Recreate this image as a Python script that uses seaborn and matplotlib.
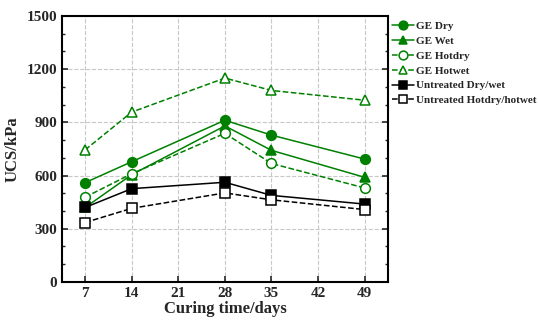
import numpy as np
import pandas as pd
import matplotlib
matplotlib.use('Agg')
import matplotlib.pyplot as plt
import seaborn as sns
from matplotlib.ticker import MultipleLocator

sns.set_style('white')
plt.rcParams['font.family'] = ['Liberation Serif', 'DejaVu Serif']
plt.rcParams['font.weight'] = 'bold'

days = [7, 14, 28, 35, 49]
ge_dry = [560, 678, 912, 828, 693]
ge_wet = [420, 605, 880, 742, 590]
ge_hotdry = [478, 610, 838, 668, 530]
ge_hotwet = [745, 958, 1150, 1080, 1025]
untreated_dw = [420, 526, 562, 488, 439]
untreated_hh = [335, 415, 502, 463, 408]

series = [
    ('GE Dry', ge_dry, 'green', '-', 'o', True),
    ('GE Wet', ge_wet, 'green', '-', '^', True),
    ('GE Hotdry', ge_hotdry, 'green', '--', 'o', False),
    ('GE Hotwet', ge_hotwet, 'green', '--', '^', False),
    ('Untreated Dry/wet', untreated_dw, 'black', '-', 's', True),
    ('Untreated Hotdry/hotwet', untreated_hh, 'black', '--', 's', False),
]

fig = plt.figure(figsize=(5.38, 3.27), dpi=100)
ax = fig.add_axes([0.115, 0.138, 0.606, 0.813])

for name, vals, col, ls, mk, filled in series:
    df = pd.DataFrame({'day': days, 'ucs': vals})
    sns.lineplot(data=df, x='day', y='ucs', ax=ax, color=col, linestyle=ls,
                 marker=mk, markersize=7, markeredgewidth=1.1,
                 markerfacecolor=col if filled else 'white',
                 markeredgecolor=col, linewidth=1.1, label=name)

ax.set_xlim(3.5, 52.5)
ax.set_ylim(0, 1500)
ax.set_xticks([7, 14, 21, 28, 35, 42, 49])
ax.yaxis.set_major_locator(MultipleLocator(300))
ax.yaxis.set_minor_locator(MultipleLocator(100))
ax.grid(True, which='major', linestyle='--', color='#c8c8c8', linewidth=0.8)
ax.tick_params(axis='both', which='both', direction='in', labelsize=11,
               left=True, right=True, bottom=True)
ax.tick_params(which='major', length=4, width=1.2)
ax.tick_params(which='minor', length=2.5, width=1)
for lab in ax.get_xticklabels() + ax.get_yticklabels():
    lab.set_fontweight('bold')
for s in ax.spines.values():
    s.set_linewidth(1.5)
    s.set_color('black')

ax.set_xlabel('Curing time/days', fontsize=12, fontweight='bold', labelpad=1)
ax.set_ylabel('UCS/kPa', fontsize=12, fontweight='bold')

ax.legend(loc='upper left', bbox_to_anchor=(0.995, 1.0), frameon=False,
          prop={'weight': 'bold', 'size': 8}, handlelength=2.0,
          handletextpad=0.2, labelspacing=0.45, borderaxespad=0.1,
          markerscale=0.9)

fig.savefig('out.png', dpi=100)
